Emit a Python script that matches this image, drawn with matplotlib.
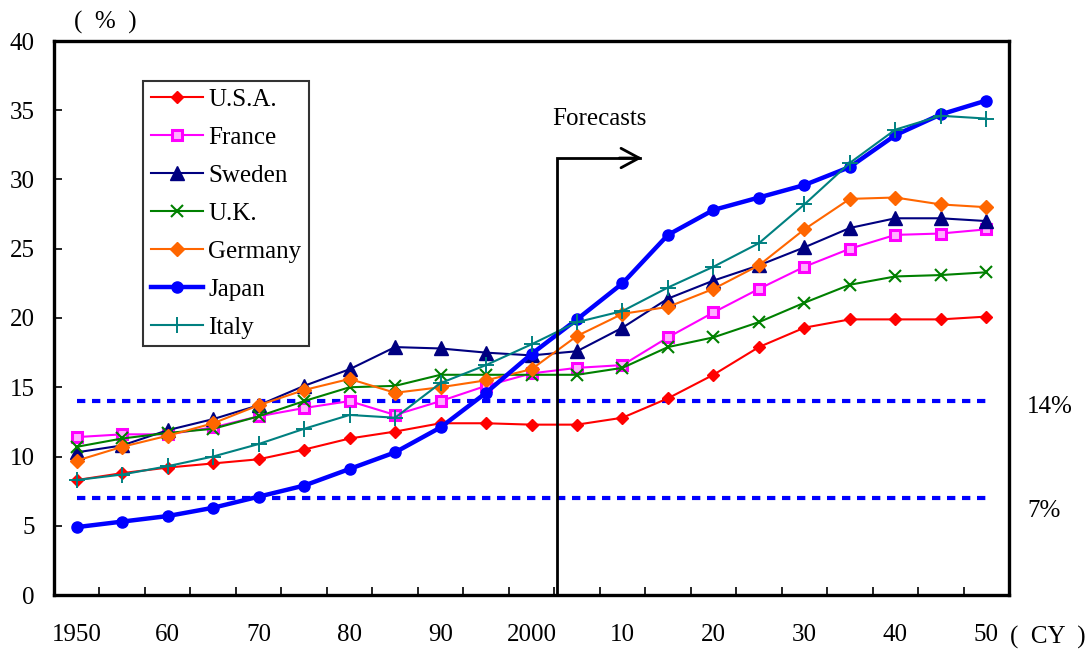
import matplotlib
matplotlib.use("Agg")
import matplotlib.pyplot as plt
import numpy as np

# Share of population aged 65 and over (%), 1950-2050 (forecasts after 2005)
years = list(range(1950, 2051, 5))
year_labels = ["1950", "60", "70", "80", "90", "2000", "10", "20", "30", "40", "50"]

usa = [8.3, 8.8, 9.2, 9.5, 9.8, 10.5, 11.3, 11.8, 12.4, 12.4, 12.3, 12.3, 12.8,
       14.2, 15.9, 17.9, 19.3, 19.9, 19.9, 19.9, 20.1]
france = [11.4, 11.6, 11.6, 12.1, 12.9, 13.5, 14.0, 13.0, 14.0, 15.1, 16.0, 16.4, 16.6,
          18.6, 20.4, 22.1, 23.7, 25.0, 26.0, 26.1, 26.4]
sweden = [10.3, 10.8, 11.9, 12.7, 13.7, 15.1, 16.3, 17.9, 17.8, 17.5, 17.3, 17.6, 19.3,
          21.4, 22.7, 23.8, 25.1, 26.5, 27.2, 27.2, 27.0]
uk = [10.7, 11.3, 11.7, 12.0, 12.9, 14.0, 15.0, 15.1, 15.9, 15.9, 15.9, 15.9, 16.4,
      17.9, 18.6, 19.7, 21.1, 22.4, 23.0, 23.1, 23.3]
germany = [9.7, 10.7, 11.5, 12.4, 13.7, 14.8, 15.6, 14.6, 15.0, 15.5, 16.3, 18.7, 20.3,
           20.8, 22.1, 23.8, 26.4, 28.6, 28.7, 28.2, 28.0]
japan = [4.9, 5.3, 5.7, 6.3, 7.1, 7.9, 9.1, 10.3, 12.1, 14.6, 17.4, 19.9, 22.5,
         26.0, 27.8, 28.7, 29.6, 30.9, 33.2, 34.7, 35.7]
italy = [8.3, 8.7, 9.3, 10.0, 10.9, 12.0, 13.0, 12.8, 15.3, 16.6, 18.1, 19.7, 20.5,
         22.2, 23.7, 25.4, 28.2, 31.2, 33.6, 34.6, 34.4]

thresholds = [14, 7]
threshold_labels = ["14%", "7%"]

plt.rcParams["font.family"] = ["Liberation Serif", "DejaVu Serif"]
plt.rcParams["font.size"] = 18

fig = plt.figure(figsize=(10.85, 6.55), dpi=100)
ax = fig.add_axes([54 / 1085, 1 - 595 / 655, 955 / 1085, 554 / 655])

x = np.arange(len(years))

# Reference lines for the "aging" (7%) and "aged" (14%) society levels
for t in thresholds:
    ax.plot([0, 20.05], [t, t], color="#0000FF", lw=3, dashes=(2.0, 1.6),
            solid_capstyle="butt", dash_capstyle="butt", zorder=1)

series = [
    ("U.S.A.", usa, dict(color="#FF0000", marker="D", ms=6.5, lw=1.5)),
    ("France", france, dict(color="#FF00FF", marker="s", ms=7, lw=1.5,
                            mfc="#FFB0FF", mec="#FF00FF", mew=2.2)),
    ("Sweden", sweden, dict(color="#000080", marker="^", ms=9.5, lw=1.5)),
    ("U.K.", uk, dict(color="#008000", marker="x", ms=9, lw=1.5, mew=1.5)),
    ("Germany", germany, dict(color="#FF6600", marker="D", ms=7.5, lw=1.5)),
    ("Japan", japan, dict(color="#0000FF", marker="o", ms=8, lw=3.2)),
    ("Italy", italy, dict(color="#008080", marker="+", ms=12, lw=1.5, mew=1.4)),
]
for name, vals, style in series:
    ax.plot(x, vals, label=name, zorder=3, **style)

# Forecast marker: vertical bar with an arrow pointing to later years
fx, fy, fx_end = 10.55, 31.55, 12.43
ax.plot([fx, fx, fx_end - 0.05], [0, fy, fy], color="black", lw=2,
        solid_joinstyle="miter", zorder=4)
ax.annotate("", xy=(fx_end, fy), xytext=(fx_end - 0.5, fy),
            arrowprops=dict(arrowstyle="->, head_length=0.65, head_width=0.35",
                            lw=2, color="black", mutation_scale=20,
                            shrinkA=0, shrinkB=0), zorder=4)
ax.text(10.45, 34.4, "Forecasts", ha="left", va="center", fontsize=18)

for t, lab, ty in zip(thresholds, threshold_labels, [13.57, 6.06]):
    ax.text(20.9, ty, lab, ha="left", va="center", fontsize=18, clip_on=False)

ax.set_xlim(-0.5, 20.5)
ax.set_ylim(0, 40)

ax.set_xticks(np.arange(0.5, 20, 1))
ax.set_xticklabels([])
ax.set_xticks(np.arange(0, 21, 2), minor=True)
ax.set_xticklabels(year_labels, minor=True)
ax.tick_params(axis="x", which="major", direction="in", length=6, width=1.2)
ax.tick_params(axis="x", which="minor", length=0, pad=21, labelsize=18)

ax.set_yticks(np.arange(0, 41, 5))
ax.tick_params(axis="y", direction="in", length=6, width=1.2, pad=14, labelsize=18)

for s in ax.spines.values():
    s.set_linewidth(2.4)
    s.set_color("black")

leg = ax.legend(loc="upper left", bbox_to_anchor=(0.0932, 0.9278), borderaxespad=0,
                fancybox=False, frameon=True, edgecolor="black", fontsize=18,
                handlelength=2.1, handletextpad=0.2, borderpad=0.3,
                labelspacing=0.62)
leg.get_frame().set_linewidth(1.5)

fig.text(105 / 1085, 1 - 22 / 655, "(  %  )", ha="center", va="center", fontsize=18)
fig.text(1010 / 1085, 1 - 637 / 655, "(  CY  )", ha="left", va="center", fontsize=18)

fig.savefig("out.png", dpi=100)
